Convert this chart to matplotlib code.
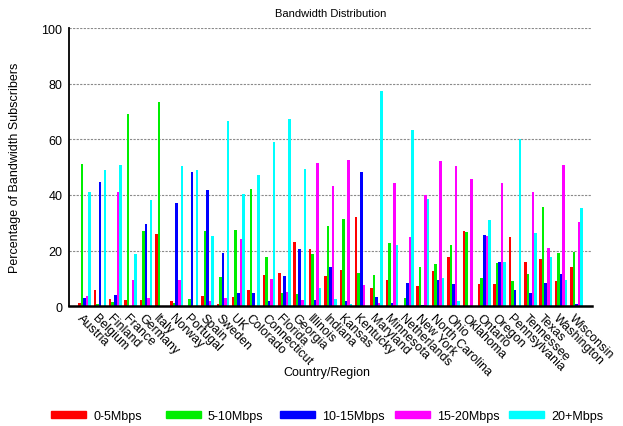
import numpy as np
import matplotlib
matplotlib.use("Agg")
import matplotlib.pyplot as plt
from matplotlib.patches import Patch

plt.rcParams["font.family"] = ["Liberation Sans", "DejaVu Sans"]

regions = ["Austria", "Belgium", "Finland", "France", "Germany", "Italy", "Norway",
           "Portugal", "Spain", "Sweden", "UK", "Colorado", "Connecticut", "Florida",
           "Georgia", "Illinois", "Indiana", "Kansas", "Kentucky", "Maryland",
           "Minnesota", "Netherlands", "New York", "North Carolina", "Ohio",
           "Oklahoma", "Ontario", "Oregon", "Pennsylvania", "Tennessee", "Texas",
           "Washington", "Wisconsin"]

bw_0_5 = [1.2, 5.9, 2.6, 2.3, 2.3, 26.0, 1.9, 0.0, 3.7, 0.8, 3.4, 5.9, 11.3, 12.0,
          23.1, 20.6, 10.9, 13.1, 32.1, 6.6, 9.5, 0.0, 7.3, 12.7, 17.7, 27.1, 8.0,
          8.0, 24.9, 15.9, 17.0, 9.1, 14.1]
bw_5_10 = [51.2, 0.8, 1.6, 69.2, 27.1, 73.5, 1.2, 2.6, 27.1, 10.6, 27.5, 42.2, 17.7,
           4.8, 4.4, 18.8, 28.9, 31.4, 12.0, 11.3, 22.8, 3.0, 14.1, 15.2, 22.1, 26.7,
           10.2, 15.6, 9.1, 11.6, 35.7, 19.2, 19.5]
bw_10_15 = [3.0, 44.7, 4.1, 0.0, 29.6, 0.0, 37.2, 48.3, 41.8, 19.2, 4.8, 4.8, 1.9,
            10.9, 20.6, 2.3, 14.1, 1.9, 48.3, 3.4, 1.2, 8.4, 0.5, 9.5, 8.0, 0.0,
            25.7, 15.9, 5.9, 4.8, 8.4, 11.6, 0.8]
bw_15_20 = [3.7, 0.0, 41.1, 9.5, 3.0, 0.0, 9.5, 0.0, 1.9, 3.0, 24.2, 0.0, 9.8, 5.2,
            2.3, 51.6, 43.3, 52.6, 7.7, 1.2, 44.4, 24.9, 40.0, 52.3, 50.5, 45.8,
            25.3, 44.4, 0.0, 41.1, 21.0, 50.8, 30.3]
bw_20p = [41.1, 49.0, 50.8, 18.8, 38.2, 0.0, 50.5, 49.0, 25.3, 66.7, 40.4, 47.2,
          59.1, 67.4, 49.4, 6.6, 2.6, 0.8, 0.0, 77.5, 22.1, 63.4, 38.6, 10.2, 1.9,
          0.0, 31.1, 15.9, 60.2, 26.4, 17.7, 9.5, 35.4]

series = [bw_0_5, bw_5_10, bw_10_15, bw_15_20, bw_20p]
labels = ["0-5Mbps", "5-10Mbps", "10-15Mbps", "15-20Mbps", "20+Mbps"]
colors = ["#ff0000", "#00ee00", "#0000ff", "#ff00ff", "#00ffff"]

fig = plt.figure(figsize=(6.23, 4.27), dpi=100)
ax = fig.add_axes([0.111, 0.281, 0.839, 0.650])

x = np.arange(len(regions))
w = 0.165
for i, (vals, lab, c) in enumerate(zip(series, labels, colors)):
    ax.bar(x + (i - 2) * w, vals, width=w, color=c, label=lab, linewidth=0)

ax.set_xlim(-1, len(regions))
ax.set_ylim(0, 100)
ax.set_yticks([0, 20, 40, 60, 80, 100])
ax.tick_params(axis="y", labelsize=9, length=0, pad=5)
ax.set_xticks(x - 0.1)
ax.set_xticklabels(regions, rotation=-45, ha="left", va="top",
                   rotation_mode="anchor", fontsize=9)
ax.tick_params(axis="x", length=0, pad=4)
ax.yaxis.grid(True, linestyle=(0, (2, 1.2)), color="#8a8a8a", linewidth=0.8)
ax.set_axisbelow(True)
for s in ["top", "right"]:
    ax.spines[s].set_visible(False)
ax.spines["left"].set_linewidth(1.3)
ax.spines["bottom"].set_linewidth(1.8)

ax.set_title("Bandwidth Distribution", fontsize=8, pad=9)
ax.set_ylabel("Percentage of Bandwidth Subscribers", fontsize=9)
ax.yaxis.set_label_coords(-0.092, 0.5)
ax.set_xlabel("Country/Region", fontsize=9)
ax.xaxis.set_label_coords(0.493, -0.215)

# legend: equal-width columns, one entry each
leg_x = [51, 166, 280, 395, 509]
for lx, lab, c in zip(leg_x, labels, colors):
    fig.legend(handles=[Patch(color=c, label=lab)], loc="center left",
               bbox_to_anchor=(lx / 623, 1 - 417 / 427), frameon=False,
               fontsize=9, handlelength=2.8, handleheight=0.56,
               handletextpad=0.56, borderpad=0, borderaxespad=0)

fig.savefig("out.png", dpi=100)
